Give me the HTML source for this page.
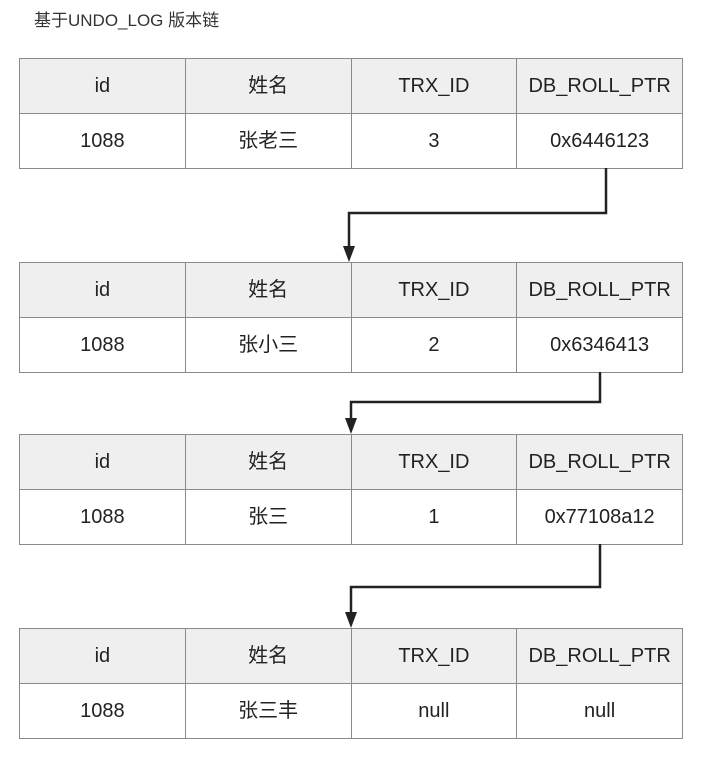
<!DOCTYPE html>
<html><head><meta charset="utf-8"><style>
body{margin:0;background:#fff;width:706px;height:764px;position:relative;font-family:"Liberation Sans","Noto Sans CJK SC",sans-serif;overflow:hidden}
.t{position:absolute;left:34px;top:10px;font-size:17px;line-height:22px;color:#333}
table{position:absolute;left:19px;border-collapse:collapse;width:664px;table-layout:fixed}
td{border:1.5px solid #8a8a8a;height:54px;text-align:center;vertical-align:middle;font-size:20px;line-height:24px;color:#222;padding:0}
td span{display:inline-block;height:24px;line-height:24px;vertical-align:middle}
tr.h td{background:#efefef}
</style></head><body>
<div class="t">基于UNDO_LOG 版本链</div>
<table style="top:58px"><tr class="h"><td><span>id</span></td><td><span>姓名</span></td><td><span>TRX_ID</span></td><td><span>DB_ROLL_PTR</span></td></tr><tr><td><span>1088</span></td><td><span>张老三</span></td><td><span>3</span></td><td><span>0x6446123</span></td></tr></table>
<table style="top:262px"><tr class="h"><td><span>id</span></td><td><span>姓名</span></td><td><span>TRX_ID</span></td><td><span>DB_ROLL_PTR</span></td></tr><tr><td><span>1088</span></td><td><span>张小三</span></td><td><span>2</span></td><td><span>0x6346413</span></td></tr></table>
<table style="top:434px"><tr class="h"><td><span>id</span></td><td><span>姓名</span></td><td><span>TRX_ID</span></td><td><span>DB_ROLL_PTR</span></td></tr><tr><td><span>1088</span></td><td><span>张三</span></td><td><span>1</span></td><td><span>0x77108a12</span></td></tr></table>
<table style="top:628px"><tr class="h"><td><span>id</span></td><td><span>姓名</span></td><td><span>TRX_ID</span></td><td><span>DB_ROLL_PTR</span></td></tr><tr><td><span>1088</span></td><td><span>张三丰</span></td><td><span>null</span></td><td><span>null</span></td></tr></table>
<svg width="706" height="764" style="position:absolute;left:0;top:0">
<g fill="none" stroke="#222" stroke-width="2.5">
<polyline points="606,168 606,213 349,213 349,248"/>
<polyline points="600,372 600,402 351,402 351,420"/>
<polyline points="600,544 600,587 351,587 351,614"/>
</g>
<g fill="#222">
<polygon points="343,246 355,246 349,262"/>
<polygon points="345,418 357,418 351,434"/>
<polygon points="345,612 357,612 351,628"/>
</g>
</svg>
</body></html>
